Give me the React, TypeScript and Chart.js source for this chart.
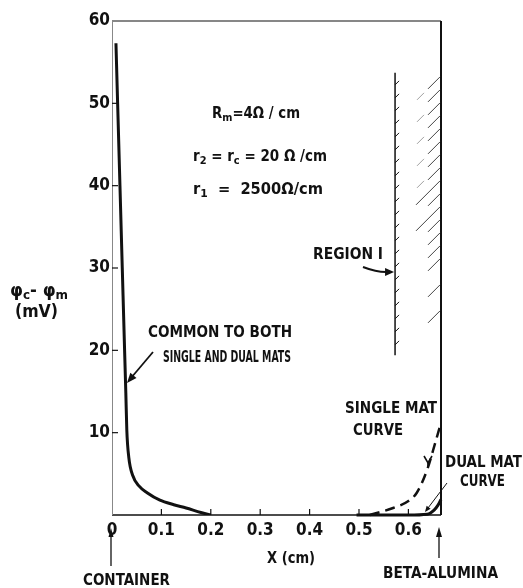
import React, { useEffect, useRef } from "react";
import { Chart, registerables } from "chart.js";

Chart.register(...registerables);

// ---- data ----
const xTickValues = [0, 0.1, 0.2, 0.3, 0.4, 0.5, 0.6];
const xTickLabels = ["0", "0.1", "0.2", "0.3", "0.4", "0.5", "0.6"];
const yTickValues = [10, 20, 30, 40, 50, 60];
const yTickLabels = ["10", "20", "30", "40", "50", "60"];

// curve common to both single and dual mats (near the container)
const commonX = [0.008, 0.0114, 0.0161, 0.0208, 0.0255, 0.028, 0.03, 0.034, 0.042, 0.055, 0.071, 0.097, 0.125, 0.15, 0.18, 0.2];
const commonY = [57.3, 50, 40, 30, 20, 14.8, 10.3, 7, 4.8, 3.5, 2.7, 1.8, 1.25, 0.85, 0.3, 0];

// single mat curve (dashed)
const singleX = [0.522, 0.569, 0.6, 0.617, 0.638, 0.654, 0.666];
const singleY = [0, 0.85, 1.7, 2.7, 5.5, 8.7, 11.2];

// dual mat curve (solid, along axis then small rise)
const dualX = [0.495, 0.55, 0.6, 0.638, 0.652, 0.66, 0.666];
const dualY = [0, 0, 0, 0.1, 0.6, 1.2, 1.9];

// Region I boundary
const regionX = 0.573;
const regionYTop = 53.7;
const regionYBottom = 19.4;
const hatchYBottom = 23;

const X_MIN = 0;
const X_MAX = 0.666;
const Y_MIN = 0;
const Y_MAX = 60;

const FONT_FAMILY = '"DejaVu Sans Condensed", "DejaVu Sans", sans-serif';

type Run = { t: string; sub?: boolean };

function drawRuns(
  ctx: CanvasRenderingContext2D,
  runs: Run[],
  x: number,
  y: number,
  size: number,
  targetWidth?: number,
  weight = "bold"
) {
  ctx.save();
  ctx.fillStyle = "#111";
  ctx.textBaseline = "middle";
  ctx.textAlign = "left";
  let total = 0;
  const widths: number[] = [];
  for (const r of runs) {
    ctx.font = `${weight} ${r.sub ? Math.round(size * 0.72) : size}px ${FONT_FAMILY}`;
    const w = ctx.measureText(r.t).width;
    widths.push(w);
    total += w;
  }
  ctx.translate(x, y);
  if (targetWidth) ctx.scale(targetWidth / total, 1);
  let cx = 0;
  runs.forEach((r, i) => {
    ctx.font = `${weight} ${r.sub ? Math.round(size * 0.72) : size}px ${FONT_FAMILY}`;
    ctx.fillText(r.t, cx, r.sub ? size * 0.28 : 0);
    cx += widths[i];
  });
  ctx.restore();
}

function arrowHead(ctx: CanvasRenderingContext2D, x0: number, y0: number, x1: number, y1: number, len = 9, wid = 4) {
  const a = Math.atan2(y1 - y0, x1 - x0);
  ctx.beginPath();
  ctx.moveTo(x1, y1);
  ctx.lineTo(x1 - len * Math.cos(a) + wid * Math.sin(a), y1 - len * Math.sin(a) - wid * Math.cos(a));
  ctx.lineTo(x1 - len * Math.cos(a) - wid * Math.sin(a), y1 - len * Math.sin(a) + wid * Math.cos(a));
  ctx.closePath();
  ctx.fill();
}

const decorPlugin = {
  id: "decor",
  afterDatasetsDraw(chart: any) {
    const ctx: CanvasRenderingContext2D = chart.ctx;
    const xs = chart.scales.x;
    const ys = chart.scales.y;
    const { left, right, top, bottom } = chart.chartArea;
    ctx.save();
    ctx.strokeStyle = "#111";
    ctx.fillStyle = "#111";

    // frame: top line, right border (beta-alumina), bottom axis, left axis
    ctx.lineWidth = 1.2;
    ctx.beginPath();
    ctx.moveTo(left, top);
    ctx.lineTo(right, top);
    ctx.stroke();
    ctx.lineWidth = 2;
    ctx.beginPath();
    ctx.moveTo(right, top);
    ctx.lineTo(right, bottom);
    ctx.stroke();
    ctx.lineWidth = 1.3;
    ctx.beginPath();
    ctx.moveTo(left, bottom);
    ctx.lineTo(right, bottom);
    ctx.stroke();
    ctx.strokeStyle = "#888";
    ctx.lineWidth = 1;
    ctx.beginPath();
    ctx.moveTo(left + 0.5, top);
    ctx.lineTo(left + 0.5, bottom);
    ctx.stroke();
    ctx.strokeStyle = "#111";

    // inward tick marks
    ctx.lineWidth = 1.2;
    for (const v of xTickValues) {
      if (v === 0) continue;
      const px = xs.getPixelForValue(v);
      ctx.beginPath();
      ctx.moveTo(px, bottom);
      ctx.lineTo(px, bottom - 6);
      ctx.stroke();
    }
    for (const v of yTickValues) {
      if (v === Y_MAX) continue;
      const py = ys.getPixelForValue(v);
      ctx.beginPath();
      ctx.moveTo(left, py);
      ctx.lineTo(left + 6, py);
      ctx.stroke();
    }

    // Region I boundary line with small ticks
    const rx = xs.getPixelForValue(regionX);
    const ry0 = ys.getPixelForValue(regionYTop);
    const ry1 = ys.getPixelForValue(regionYBottom);
    ctx.lineWidth = 1.5;
    ctx.beginPath();
    ctx.moveTo(rx, ry0);
    ctx.lineTo(rx, ry1);
    ctx.stroke();
    ctx.lineWidth = 1;
    for (let y = ry0 + 10; y < ry1 - 5; y += 13) {
      ctx.beginPath();
      ctx.moveTo(rx, y + 2);
      ctx.lineTo(rx + 4, y - 2);
      ctx.stroke();
    }

    // hatching next to the right border
    const hy1 = ys.getPixelForValue(hatchYBottom);
    ctx.strokeStyle = "#444";
    ctx.lineWidth = 1;
    let i = 0;
    for (let y = ry0 + 4; y < hy1; y += 13, i++) {
      const len = i === 8 || i === 10 ? 24 : i > 14 && i % 2 === 1 ? 0 : 12;
      if (len === 0) continue;
      ctx.beginPath();
      ctx.moveTo(right - 1, y);
      ctx.lineTo(right - 1 - len, y + len);
      ctx.stroke();
    }
    ctx.strokeStyle = "#888";
    ctx.lineWidth = 0.8;
    for (let k = 0; k < 5; k++) {
      const y = ry0 + 8 + k * 22;
      ctx.beginPath();
      ctx.moveTo(right - 17, y + 12);
      ctx.lineTo(right - 24, y + 19);
      ctx.stroke();
    }
    ctx.strokeStyle = "#111";

    // arrows
    // Region I
    ctx.lineWidth = 2;
    ctx.beginPath();
    ctx.moveTo(363, 267);
    ctx.quadraticCurveTo(376, 272, 386, 272);
    ctx.stroke();
    arrowHead(ctx, 380, 272, rx - 1, 272, 9, 4);
    // common
    ctx.lineWidth = 1.8;
    ctx.beginPath();
    ctx.moveTo(153, 352);
    ctx.lineTo(131, 378);
    ctx.stroke();
    arrowHead(ctx, 153, 352, 127, 383, 10, 4);
    // dual mat leader
    ctx.lineWidth = 1;
    ctx.beginPath();
    ctx.moveTo(447, 483);
    ctx.lineTo(428, 508);
    ctx.stroke();
    arrowHead(ctx, 447, 483, 425, 512, 6, 2.5);
    // single mat small v mark
    ctx.lineWidth = 1.6;
    ctx.beginPath();
    ctx.moveTo(424, 456);
    ctx.lineTo(428, 463);
    ctx.lineTo(432, 456);
    ctx.stroke();
    ctx.beginPath();
    ctx.moveTo(428, 463);
    ctx.lineTo(428, 467);
    ctx.stroke();
    // container arrow
    const cx0 = xs.getPixelForValue(0) - 1;
    ctx.lineWidth = 1.3;
    ctx.beginPath();
    ctx.moveTo(cx0, 566);
    ctx.lineTo(cx0, 534);
    ctx.stroke();
    arrowHead(ctx, cx0, 566, cx0, 528, 9, 2.5);
    // beta-alumina arrow
    ctx.beginPath();
    ctx.moveTo(right - 2, 558);
    ctx.lineTo(right - 2, 534);
    ctx.stroke();
    arrowHead(ctx, right - 2, 558, right - 2, 527, 10, 3);

    // texts
    drawRuns(ctx, [{ t: "R" }, { t: "m", sub: true }, { t: "=4Ω / cm" }], 212, 114, 15, 88);
    drawRuns(ctx, [{ t: "r" }, { t: "2", sub: true }, { t: " = r" }, { t: "c", sub: true }, { t: " = 20 Ω /cm" }], 193, 157, 15, 134);
    drawRuns(ctx, [{ t: "r" }, { t: "1", sub: true }, { t: "  =  2500Ω/cm" }], 193, 190, 15, 130);
    drawRuns(ctx, [{ t: "REGION I" }], 313, 255, 16, 70);
    drawRuns(ctx, [{ t: "COMMON TO BOTH" }], 148, 333, 16, 144);
    drawRuns(ctx, [{ t: "SINGLE AND DUAL MATS" }], 163, 358, 16, 128);
    drawRuns(ctx, [{ t: "SINGLE MAT" }], 345, 409, 16, 92);
    drawRuns(ctx, [{ t: "CURVE" }], 353, 431, 16, 50);
    drawRuns(ctx, [{ t: "DUAL MAT" }], 445, 463, 16, 77);
    drawRuns(ctx, [{ t: "CURVE" }], 460, 482, 16, 45);
    drawRuns(ctx, [{ t: "X (cm)" }], 267, 559, 16, 48);
    drawRuns(ctx, [{ t: "CONTAINER" }], 83, 581, 16, 87);
    drawRuns(ctx, [{ t: "BETA-ALUMINA" }], 383, 574, 16, 115);
    drawRuns(ctx, [{ t: "φ" }, { t: "c", sub: true }, { t: "- φ" }, { t: "m", sub: true }], 10, 291, 18, 58);
    drawRuns(ctx, [{ t: "(mV)" }], 15, 313, 17, 43);

    ctx.restore();
  },
};

export default function App() {
  const ref = useRef<HTMLCanvasElement | null>(null);
  useEffect(() => {
    if (!ref.current) return;
    const toPts = (xs: number[], ys: number[]) => xs.map((x, i) => ({ x, y: ys[i] }));
    const chart = new Chart(ref.current, {
      type: "line",
      data: {
        datasets: [
          {
            data: toPts(commonX, commonY),
            borderColor: "#111",
            borderWidth: 3,
            pointRadius: 0,
            cubicInterpolationMode: "monotone",
            fill: false,
          },
          {
            data: toPts(singleX, singleY),
            borderColor: "#111",
            borderWidth: 2.5,
            borderDash: [10, 6],
            pointRadius: 0,
            cubicInterpolationMode: "monotone",
            fill: false,
            clip: false,
          },
          {
            data: toPts(dualX, dualY),
            borderColor: "#111",
            borderWidth: 3,
            pointRadius: 0,
            cubicInterpolationMode: "monotone",
            fill: false,
            clip: false,
          },
        ],
      },
      options: {
        animation: false,
        responsive: false,
        devicePixelRatio: 1,
        layout: { padding: { left: 0, top: 21, right: 82, bottom: 0 } },
        plugins: { legend: { display: false }, tooltip: { enabled: false } },
        scales: {
          x: {
            type: "linear",
            min: X_MIN,
            max: X_MAX,
            grid: { display: false, drawTicks: false },
            border: { display: false },
            afterBuildTicks: (s: any) => {
              s.ticks = xTickValues.map((v) => ({ value: v }));
            },
            afterFit: (s: any) => {
              s.height = 73;
            },
            ticks: {
              padding: 5,
              autoSkip: false,
              maxRotation: 0,
              color: "#111",
              font: { family: FONT_FAMILY, size: 17, weight: "bold" },
              callback: (v: any) => {
                const i = xTickValues.findIndex((t) => Math.abs(t - v) < 1e-9);
                return i >= 0 ? xTickLabels[i] : "";
              },
            },
          },
          y: {
            type: "linear",
            min: Y_MIN,
            max: Y_MAX,
            grid: { display: false, drawTicks: false },
            border: { display: false },
            afterBuildTicks: (s: any) => {
              s.ticks = yTickValues.map((v) => ({ value: v }));
            },
            afterFit: (s: any) => {
              s.width = 112;
            },
            ticks: {
              padding: 2,
              color: "#111",
              font: { family: FONT_FAMILY, size: 17, weight: "bold" },
              callback: (v: any) => {
                const i = yTickValues.findIndex((t) => Math.abs(t - v) < 1e-9);
                return i >= 0 ? yTickLabels[i] : "";
              },
            },
          },
        },
      },
      plugins: [decorPlugin],
    } as any);
    return () => chart.destroy();
  }, []);
  return (
    <div style={{ position: "fixed", left: 0, top: 0, width: 523, height: 588, background: "#fff" }}>
      <canvas ref={ref} width={523} height={588} style={{ display: "block" }} />
    </div>
  );
}
